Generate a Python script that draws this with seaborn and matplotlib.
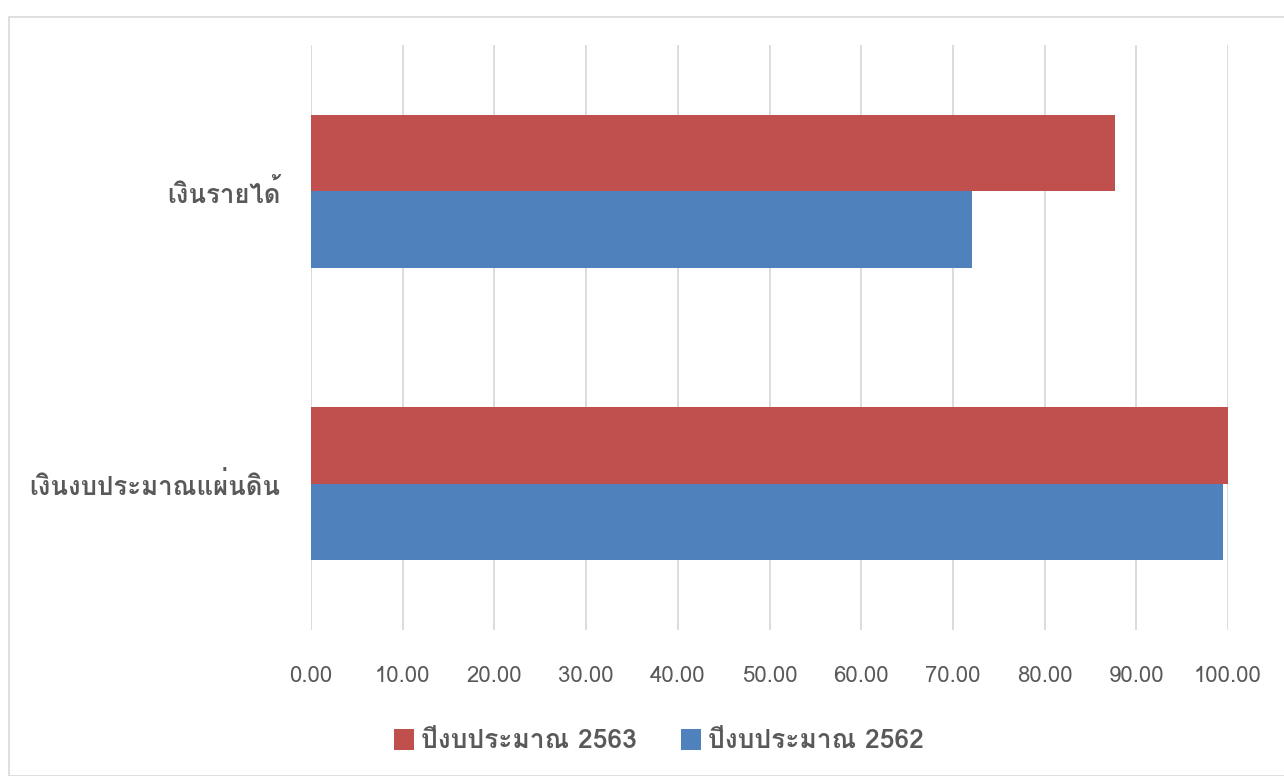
import matplotlib

matplotlib.use("Agg")
import matplotlib.pyplot as plt
from matplotlib import font_manager
from matplotlib.ft2font import FT2Font
import pandas as pd
import seaborn as sns

categories = ["เงินรายได้", "เงินงบประมาณแผ่นดิน"]
series = ["ปีงบประมาณ 2563", "ปีงบประมาณ 2562"]
values_2563 = [87.7, 100.0]
values_2562 = [72.1, 99.5]
xticks = [0, 10, 20, 30, 40, 50, 60, 70, 80, 90, 100]


def thai_font():
    # pick the first installed font that carries Thai glyphs
    for f in font_manager.fontManager.ttflist:
        try:
            if 0x0E40 in FT2Font(f.fname).get_charmap():
                return f.name
        except Exception:
            pass
    return None


sns.set_theme(style="white")
fam = thai_font()
plt.rcParams["font.family"] = ([fam] if fam else []) + ["DejaVu Sans"]

df = pd.DataFrame({
    "category": categories * 2,
    "series": [series[0]] * 2 + [series[1]] * 2,
    "value": values_2563 + values_2562,
})

fig = plt.figure(figsize=(12.84, 7.76), dpi=100)
ax = fig.add_axes([311 / 1284, 1 - 630 / 776, (1228 - 311) / 1284, (630 - 45) / 776])

sns.barplot(
    data=df, y="category", x="value", hue="series", hue_order=series,
    order=categories, orient="h", palette=["#C0504D", "#4F81BD"],
    width=0.523, ax=ax, legend=True, saturation=1, linewidth=0,
)

ax.set_xlim(0, 100)
ax.set_xticks(xticks)
ax.set_xticklabels([f"{t:.2f}" for t in xticks], fontsize=16, color="#595959")
ax.tick_params(axis="x", length=0, pad=26)
ax.tick_params(axis="y", length=0, pad=22)
for lab in ax.get_yticklabels():
    lab.set_fontsize(18.5)
    lab.set_color("#595959")
    lab.set_fontweight("bold")
ax.set_xlabel("")
ax.set_ylabel("")
ax.grid(axis="x", color="#D9D9D9", linewidth=1.3)
ax.set_axisbelow(True)
for s in ax.spines.values():
    s.set_visible(False)

handles, labels = ax.get_legend_handles_labels()
ax.legend_.remove()
fig.legend(
    handles, labels, loc="center", bbox_to_anchor=(659 / 1284, 1 - 741 / 776),
    ncol=2, frameon=False, handlelength=0.75, handleheight=0.85, handletextpad=0.25,
    columnspacing=1.7, prop={"size": 19, "weight": "bold"}, labelcolor="#595959",
)

# chart border
fig.add_artist(plt.Rectangle((9 / 1284, 0), 1, 1 - 17 / 776, transform=fig.transFigure,
                             fill=False, edgecolor="#D9D9D9", linewidth=1.2))

fig.savefig("out.png", dpi=100, facecolor="w")
